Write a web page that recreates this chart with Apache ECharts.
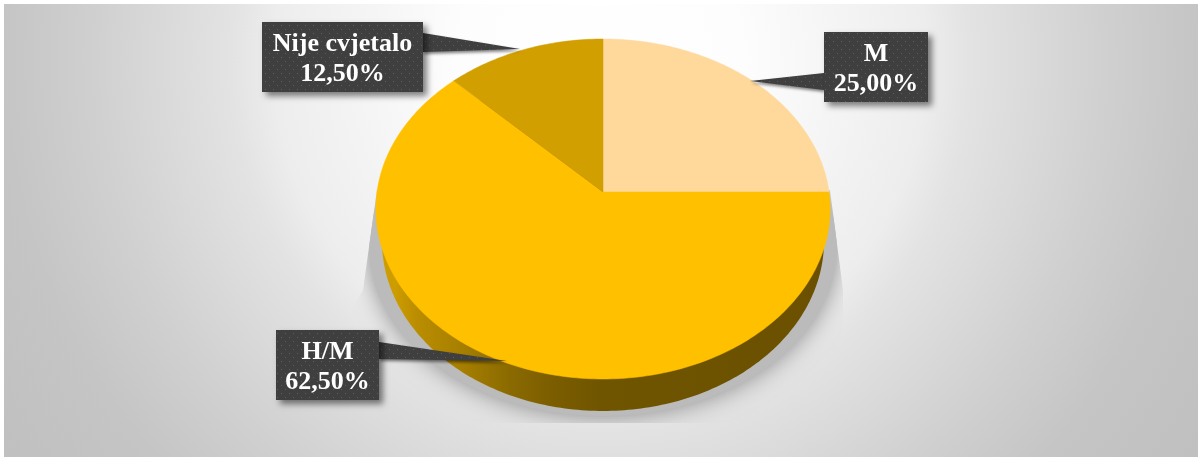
<!DOCTYPE html>
<html><head><meta charset="utf-8">
<style>html,body{margin:0;padding:0;background:#fff}#c{width:1198px;height:457px;filter:blur(0.5px)}</style>
<script src="https://cdn.jsdelivr.net/npm/echarts@6/dist/echarts.min.js"></script>
</head><body><div id="c"></div>
<script>
const categories = ['M', 'H/M', 'Nije cvjetalo'];
const shares = [25, 62.5, 12.5];
const sliceColors = ['#FFD89C', '#FFC000', '#D19F00'];

// Projection of the tilted disc onto the page
const apex = {x: 603, y: 192}, R = 226, A = 168.3, K = 0.1, DEPTH = 32, LOWER_SCALE = 0.973;
function project(deg) { // deg clockwise from 12 o'clock
  const t = deg * Math.PI / 180, u = Math.sin(t), v = Math.cos(t), w = 1 + K * v;
  return [apex.x + R * u / w, apex.y - A * v / w];
}
const rim = []; for (let d = 0; d <= 360; d += 1) rim.push(project(d));
// Label layout
const boxes = [
  {x: 824, y: 32, w: 104, h: 70, tail: [[750, 81], [824, 73], [824, 90]]},
  {x: 276, y: 330, w: 103, h: 70, tail: [[507, 361], [379, 342], [379, 359]]},
  {x: 262, y: 22, w: 161, h: 70, tail: [[520, 49], [423, 33], [423, 52]]}
];
const tile = document.createElement('canvas'); tile.width = 8; tile.height = 8;
(function () {
  const g = tile.getContext('2d');
  g.fillStyle = '#3f3f3f'; g.fillRect(0, 0, 8, 8);
  g.fillStyle = '#5c5c5c'; g.fillRect(1, 1, 1, 1); g.fillRect(5, 5, 1, 1);
})();
const boxFill = {image: tile, repeat: 'repeat'};
const fmt = v => v.toFixed(2).replace('.', ',') + '%';
const sum = a => a.reduce((s, x) => s + x, 0);

function renderBase() {
  const lower = rim.map(p => [apex.x + (p[0] - apex.x) * LOWER_SCALE, p[1] + DEPTH]);
  const body = rim.map(p => [apex.x + (p[0] - apex.x) * 1.03, p[1] + DEPTH + 5]);
  return {type: 'group', children: [
    {type: 'polygon', shape: {points: body},
     clipPath: {type: 'polygon', shape: {points: [[830, 190], [843, 290], [843, 423], [300, 423], [300, 400], [363, 290], [377, 190]]}},
     style: {fill: '#bbbbbb', shadowBlur: 24, shadowColor: '#888888'}},
    {type: 'polygon', shape: {points: lower},
     style: {fill: {type: 'linear', x: 0, y: 0, x2: 1, y2: 0, colorStops: [
       {offset: 0.03, color: '#CC9C00'}, {offset: 0.08, color: '#BA8D00'}, {offset: 0.175, color: '#A88000'},
       {offset: 0.29, color: '#8A6A00'}, {offset: 0.38, color: '#7C5E00'}, {offset: 0.49, color: '#705500'}, {offset: 1, color: '#6A5000'}]}}}
  ]};
}
function renderSlice(params, api) {
  const i = params.dataIndex, v = api.value(0);
  const start = sum(shares.slice(0, i)) / sum(shares) * 360, sweep = v / sum(shares) * 360;
  const pts = [[apex.x, apex.y]];
  for (let d = 0; d <= sweep; d += 1) pts.push(project(start + d));
  return {type: 'polygon', shape: {points: pts}, style: {fill: sliceColors[i], stroke: sliceColors[i], lineWidth: 0.5}};
}
function renderLabel(params, api) {
  const i = params.dataIndex, b = boxes[i];
  const shadow = {shadowBlur: 6, shadowOffsetX: 4, shadowOffsetY: 4, shadowColor: 'rgba(0,0,0,0.5)'};
  const font = 'bold 26px "Liberation Serif"';
  return {type: 'group', children: [
    {type: 'polygon', shape: {points: b.tail}, style: Object.assign({fill: boxFill}, shadow, {shadowOffsetX: 1, shadowOffsetY: 2, shadowBlur: 3})},
    {type: 'rect', shape: {x: b.x, y: b.y, width: b.w, height: b.h}, style: Object.assign({fill: boxFill}, shadow)},
    {type: 'text', style: {text: categories[i], x: b.x + b.w / 2, y: b.y + 22, align: 'center', verticalAlign: 'middle', fill: '#fff', font}},
    {type: 'text', style: {text: fmt(api.value(0)), x: b.x + b.w / 2, y: b.y + 52, align: 'center', verticalAlign: 'middle', fill: '#fff', font}}
  ]};
}
const seriesData = categories.map((c, i) => ({name: c, value: [shares[i]]}));
const chart = echarts.init(document.getElementById('c'), null, {renderer: 'canvas'});
chart.setOption({
  animation: false,
  graphic: [{type: 'rect', z: -10, silent: true,
    shape: {x: 4, y: 4, width: 1194, height: 453},
    style: {fill: {type: 'radial', global: true, x: 600, y: 60, r: 710, colorStops: [
      {offset: 0, color: '#ffffff'}, {offset: 0.2, color: '#fdfdfd'}, {offset: 0.46, color: '#ededed'},
      {offset: 0.52, color: '#e3e3e3'}, {offset: 0.71, color: '#d0d0d0'}, {offset: 0.84, color: '#c5c5c5'}, {offset: 1, color: '#c0c0c0'}]}}}],
  series: [
    {type: 'custom', coordinateSystem: 'none', z: 1, silent: true, data: [[1]], renderItem: renderBase},
    {type: 'custom', coordinateSystem: 'none', z: 2, silent: true, data: seriesData, renderItem: renderSlice},
    {type: 'custom', coordinateSystem: 'none', z: 3, silent: true, data: seriesData, renderItem: renderLabel}
  ]
});
</script></body></html>
